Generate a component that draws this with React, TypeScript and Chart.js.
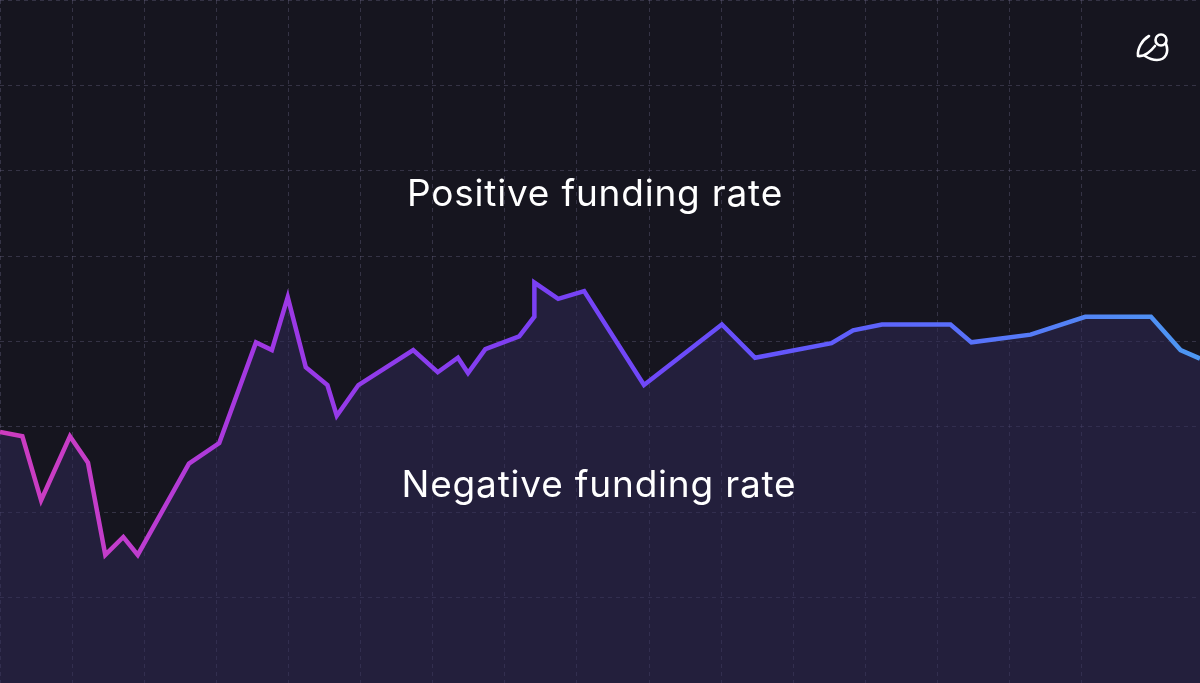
import React, { useEffect, useRef } from "react";
import { Chart, registerables } from "chart.js";

Chart.register(...registerables);

// time index (grid columns) and funding-rate level (grid rows)
const xValues = [
  0, 0.31, 0.57, 0.97, 1.22, 1.46, 1.71, 1.91, 2.62, 3.04,
  3.55, 3.77, 3.99, 4.24, 4.54, 4.67, 4.97, 5.73, 6.07, 6.35,
  6.49, 6.73, 7.2, 7.41, 7.41, 7.74, 8.1, 8.93, 10.01, 10.47,
  11.53, 11.83, 12.23, 13.18, 13.47, 14.29, 15.05, 15.96, 16.37, 16.64,
];
const rateValues = [
  2.94, 2.89, 2.14, 2.89, 2.58, 1.5, 1.71, 1.5, 2.57, 2.81,
  3.99, 3.9, 4.52, 3.7, 3.49, 3.13, 3.49, 3.9, 3.64, 3.81,
  3.63, 3.91, 4.06, 4.29, 4.69, 4.5, 4.59, 3.49, 4.2, 3.81,
  3.98, 4.13, 4.2, 4.2, 3.99, 4.08, 4.29, 4.29, 3.9, 3.8,
];
const xMax = 16.64;
const yMax = 8;
const labelPositive = "Positive funding rate";
const labelNegative = "Negative funding rate";

export default function App() {
  const ref = useRef<HTMLCanvasElement | null>(null);

  useEffect(() => {
    document.body.style.margin = "0";
    const canvas = ref.current!;
    const chart = new Chart(canvas, {
      type: "line",
      data: {
        datasets: [
          {
            data: xValues.map((x, i) => ({ x, y: rateValues[i] })),
            borderWidth: 4.5,
            borderJoinStyle: "miter",
            borderCapStyle: "butt",
            pointRadius: 0,
            tension: 0,
            fill: "start",
            backgroundColor: "rgba(48,41,90,0.5)",
            borderColor: (ctx: any) => {
              const area = ctx.chart.chartArea;
              if (!area) return "#7a40f0";
              const g = ctx.chart.ctx.createLinearGradient(area.left, 0, area.right, 0);
              g.addColorStop(0, "#cd3cbf");
              g.addColorStop(0.1, "#c23dcc");
              g.addColorStop(0.22, "#a038e4");
              g.addColorStop(0.45, "#7a40f4");
              g.addColorStop(0.62, "#6650fc");
              g.addColorStop(0.78, "#5a6cfb");
              g.addColorStop(1, "#4d98f2");
              return g;
            },
          },
        ],
      },
      options: {
        animation: false,
        responsive: false,
        maintainAspectRatio: false,
        layout: { padding: 0 },
        plugins: { legend: { display: false }, tooltip: { enabled: false } },
        scales: {
          x: {
            type: "linear",
            min: 0,
            max: xMax,
            ticks: { display: false, stepSize: 1 },
            border: { display: false, dash: [4, 4] },
            grid: { color: "rgba(120,115,150,0.32)", lineWidth: 1, drawTicks: false, tickLength: 0 },
            afterFit: (s: any) => { s.height = 0; },
          },
          y: {
            type: "linear",
            min: 0,
            max: yMax,
            ticks: { display: false, stepSize: 1 },
            border: { display: false, dash: [4, 4] },
            grid: { color: "rgba(120,115,150,0.32)", lineWidth: 1, drawTicks: false, tickLength: 0 },
            afterFit: (s: any) => { s.width = 0; },
          },
        },
      } as any,
    });
    return () => chart.destroy();
  }, []);

  const textStyle: React.CSSProperties = {
    position: "absolute",
    left: 0,
    width: 1200,
    textAlign: "center",
    color: "#ffffff",
    fontFamily: "Inter, 'Noto Sans', sans-serif",
    fontSize: 37,
    lineHeight: "37px",
    letterSpacing: "0.8px",
    fontWeight: 400,
    whiteSpace: "nowrap",
  };

  return (
    <div style={{ position: "relative", width: 1200, height: 683, background: "#16151f", overflow: "hidden" }}>
      <canvas ref={ref} width={1200} height={683} style={{ display: "block" }} />
      <div style={{ ...textStyle, top: 174, left: -5 }}>{labelPositive}</div>
      <div style={{ ...textStyle, top: 465, left: -1 }}>{labelNegative}</div>
      <svg width={1200} height={683} style={{ position: "absolute", left: 0, top: 0 }}>
        <g fill="none" stroke="#ffffff" strokeWidth={2.6} strokeLinecap="round" strokeLinejoin="round">
          <circle cx={1161} cy={40} r={5.5} />
          <path d="M1166 44 C1169 52 1166 60 1157 60 C1152 60 1148 58 1145 56" />
          <path d="M1149 36 C1142 40 1137 49 1138 56 C1145 57 1151 51 1155 46" />
        </g>
      </svg>
    </div>
  );
}
